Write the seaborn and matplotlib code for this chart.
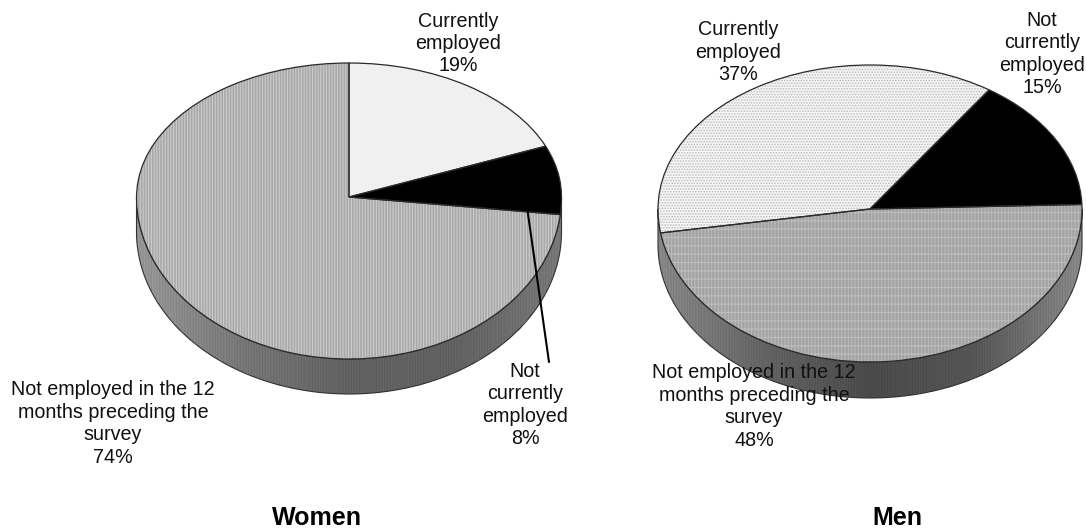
import numpy as np
import matplotlib.pyplot as plt
from matplotlib.lines import Line2D
from matplotlib.patches import Polygon
import seaborn as sns

sns.set_theme(style="white")
plt.rcParams['font.family'] = ['Liberation Sans', 'DejaVu Sans']
plt.rcParams['hatch.linewidth'] = 0.8

W, H = 1086, 529

women_labels = ["Currently\nemployed", "Not\ncurrently\nemployed",
                "Not employed in the 12\nmonths preceding the\nsurvey"]
women_values = [19, 8, 74]
men_labels = ["Currently\nemployed", "Not\ncurrently\nemployed",
              "Not employed in the 12\nmonths preceding the\nsurvey"]
men_values = [37, 15, 48]

# label block centres in pixels of the picture
women_label_xy = [(458, 43.5), (525, 405), (113, 423.5)]
men_label_xy = [(738, 52), (1042, 54), (754, 406.5)]


def fx(px):
    return px / W


def fy(py):
    return 1 - py / H


def draw_pie(cx, cy, a, b_up, b_down, depth, values, start, faces, hatches, hatch_cols, ramp_cols):
    # perspective: the rim is nearer the apex at the back than at the front,
    # so y gets a different scale above and below the apex
    def forward(y):
        y = np.asarray(y, dtype=float)
        return np.where(y > 0, y * b_up, y * b_down)

    def inverse(v):
        v = np.asarray(v, dtype=float)
        return np.where(v > 0, v / b_up, v / b_down)

    pad = 3
    d = depth / b_down
    x_lim = 1 + pad / a
    y_top = 1 + pad / b_up
    y_bot = -1 - d - pad / b_down
    ax = fig.add_axes([fx(cx - a - pad), fy(cy + b_down + depth + pad),
                       2 * (a + pad) / W, (b_up + b_down + depth + 2 * pad) / H])

    wedges, _ = ax.pie(values, startangle=start, counterclock=False,
                       colors=faces, wedgeprops={"linewidth": 0})
    for w, h, c in zip(wedges, hatches, hatch_cols):
        w.set_hatch(h)
        w.set_edgecolor(c)
        w.set_linewidth(0)
        w.set_zorder(3)

    # outline on top of the hatched faces
    outline, _ = ax.pie(values, startangle=start, counterclock=False,
                        colors=faces, wedgeprops={"fill": False, "linewidth": 0.9,
                                                  "edgecolor": "#2a2a2a"})
    for w in outline:
        w.set_zorder(4)

    # side wall, darker towards the middle
    t = np.linspace(np.pi, 2 * np.pi, 200)
    x = np.cos(t)
    y = np.sin(t)
    wall = Polygon(np.r_[np.c_[x, y - d], np.c_[x[::-1], y[::-1]]],
                   closed=True, facecolor="none", edgecolor="#333333", linewidth=0.8,
                   zorder=2)
    ax.add_patch(wall)
    ramp = sns.blend_palette(ramp_cols, n_colors=256, as_cmap=True)
    xs = np.linspace(-1, 1, 257)
    mesh = ax.pcolormesh(xs, [-1 - d, 0], np.linspace(0, 1, 256)[None, :], cmap=ramp,
                         shading="flat", zorder=1)
    mesh.set_clip_path(wall)
    streaks = Polygon(wall.get_xy(), closed=True, fill=False, hatch="||||||",
                      edgecolor=(0, 0, 0, 0.08), linewidth=0, zorder=1.5)
    ax.add_patch(streaks)

    ax.set_aspect("auto")
    ax.set_yscale("function", functions=(forward, inverse))
    ax.set_xlim(-x_lim, x_lim)
    ax.set_ylim(y_bot, y_top)
    ax.axis("off")
    return ax


fig = plt.figure(figsize=(W / 100, H / 100), dpi=100, facecolor="white")

draw_pie(349, 197, 212.5, 134, 162, 35, women_values, 90,
         ["#f0f0f0", "#000000", "#a8a8a8"],
         ["", "", "||||||"],
         ["#e6e6e6", "#000000", "#cccccc"],
         ["#9c9c9c", "#7a7a7a", "#646464", "#646464", "#7c7c7c"])
draw_pie(870, 209, 212, 144, 153, 36, men_values, 189,
         ["#f6f6f6", "#000000", "#a2a2a2"],
         ["......", "", "|||||--"],
         ["#bcbcbc", "#000000", "#bcbcbc"],
         ["#8c8c8c", "#666666", "#4c4c4c", "#585858", "#8c8c8c"])

for labels, values, xy in [(women_labels, women_values, women_label_xy),
                           (men_labels, men_values, men_label_xy)]:
    for lab, val, (px, py) in zip(labels, values, xy):
        fig.text(fx(px), fy(py), f"{lab}\n{val}%", ha="center", va="center",
                 fontsize=14.2, linespacing=1.23, color="#111111", zorder=10)

fig.add_artist(Line2D([fx(527), fx(549)], [fy(207), fy(362)], color="black", linewidth=1.5))

fig.text(fx(317), fy(518), "Women", ha="center", va="center", fontsize=18,
         fontweight="bold", color="black")
fig.text(fx(897), fy(518), "Men", ha="center", va="center", fontsize=18,
         fontweight="bold", color="black")

fig.savefig("out.png", dpi=100)
